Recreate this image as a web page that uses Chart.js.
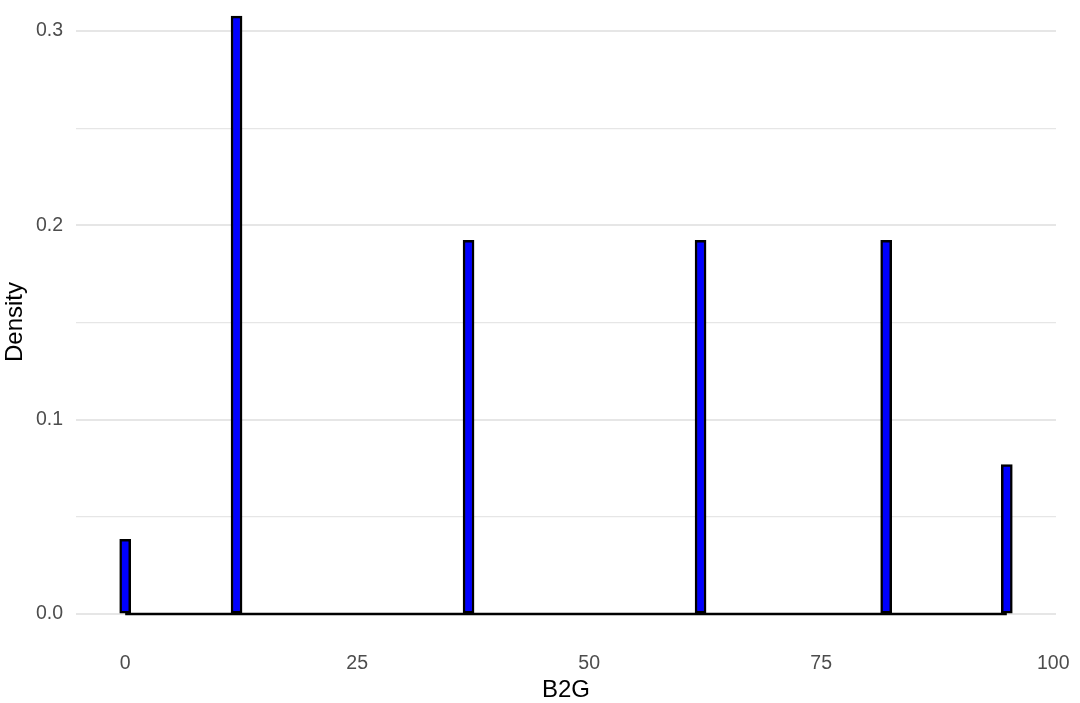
<!DOCTYPE html>
<html>
<head>
<meta charset="utf-8">
<script src="https://cdn.jsdelivr.net/npm/chart.js@4"></script>
<style>
  body { margin: 0; background: #fff; }
  #wrap { width: 1080px; height: 703px; }
</style>
</head>
<body>
<div id="wrap"><canvas id="histChart"></canvas></div>
<script>
// B2G values that have non-empty bins, and their density
const binCenters = [0, 12, 37, 62, 82, 95];
const densities = [0.0385, 0.3077, 0.1923, 0.1923, 0.1923, 0.0769];

const xTicks = [0, 25, 50, 75, 100];
const yTicks = [0, 0.1, 0.2, 0.3];
const yMinorTicks = [0.05, 0.15, 0.25];

const barPoints = binCenters.map((x, i) => ({ x: x, y: densities[i] }));
// empty bins between the first and last bar sit on the zero line
const baseline = [
    { x: binCenters[0], y: 0 },
    { x: binCenters[binCenters.length - 1], y: 0 }
];

const tickFont = { family: "'Liberation Sans', Arial, sans-serif", size: 19.5 };
const titleFont = { family: "'Liberation Sans', Arial, sans-serif", size: 24, lineHeight: 1.0 };

const ctx = document.getElementById("histChart").getContext("2d");
new Chart(ctx, {
    type: 'bar',
    data: {
        datasets: [{
            type: 'bar',
            data: barPoints,
            backgroundColor: '#0000FF',
            borderColor: '#000000',
            borderWidth: 2.5,
            borderSkipped: false,
            barThickness: 11
        }, {
            type: 'line',
            data: baseline,
            borderColor: '#000000',
            borderWidth: 2.5,
            pointRadius: 0,
            fill: false
        }]
    },
    options: {
        responsive: true,
        maintainAspectRatio: false,
        animation: false,
        layout: { padding: { top: 0, right: 24, bottom: 0, left: 0 } },
        plugins: {
            legend: { display: false },
            tooltip: { enabled: false }
        },
        scales: {
            x: {
                type: 'linear',
                offset: false,
                min: -5.3,
                max: 100.3,
                afterBuildTicks: scale => {
                    scale.ticks = xTicks.map(v => ({ value: v }));
                },
                afterFit: scale => {
                    scale.height = 59;
                    scale.paddingLeft = 0;
                    scale.paddingRight = 0;
                },
                grid: { display: false, drawTicks: false },
                border: { display: false },
                ticks: {
                    color: '#4D4D4D',
                    font: tickFont,
                    padding: 8,
                    maxRotation: 0,
                    autoSkip: false
                },
                title: {
                    display: true,
                    text: 'B2G',
                    color: '#000000',
                    font: titleFont,
                    padding: { top: 0, bottom: 1 }
                }
            },
            y: {
                min: -0.0154,
                max: 0.316,
                afterBuildTicks: scale => {
                    scale.ticks = yTicks.concat(yMinorTicks).sort((a, b) => a - b).map(v => ({ value: v }));
                },
                afterFit: scale => {
                    scale.width = 76;
                    scale.paddingTop = 0;
                    scale.paddingBottom = 0;
                },
                grid: {
                    color: '#E6E6E6',
                    lineWidth: c => yTicks.includes(c.tick.value) ? 2 : 1.3,
                    drawTicks: false
                },
                border: { display: false },
                ticks: {
                    color: '#4D4D4D',
                    font: tickFont,
                    padding: 13,
                    autoSkip: false,
                    callback: v => yTicks.includes(v) ? v.toFixed(1) : ''
                },
                title: {
                    display: true,
                    text: 'Density',
                    color: '#000000',
                    font: titleFont,
                    padding: { top: 3, bottom: 0 }
                }
            }
        }
    }
});
</script>
</body>
</html>
